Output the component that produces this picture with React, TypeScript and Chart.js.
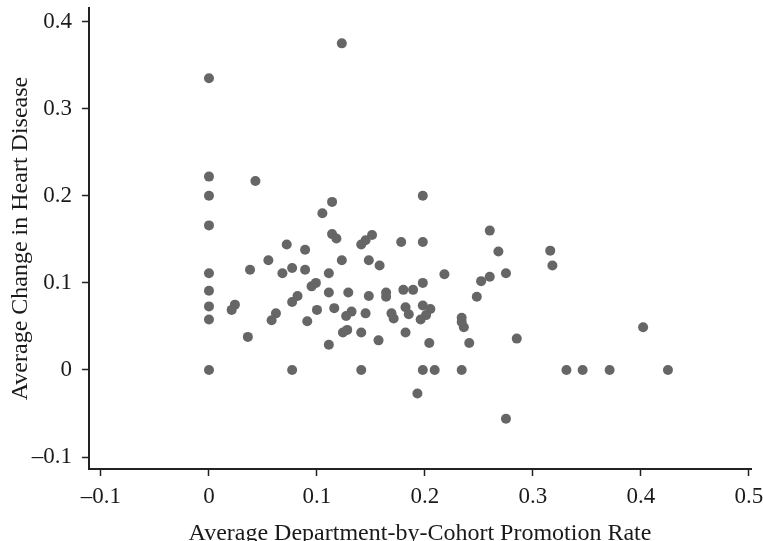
import React, { useEffect, useRef } from "react";
import { Chart, registerables } from "chart.js";

Chart.register(...registerables);

const promotionRate: number[] = [
  0, 0, 0, 0, 0, 0, 0, 0, 0,
  0.043, 0.123, 0.114, 0.105, 0.114, 0.118, 0.072, 0.141, 0.145, 0.151,
  0.089, 0.055, 0.123, 0.148, 0.158, 0.038, 0.077, 0.068, 0.089, 0.111,
  0.099, 0.095, 0.111, 0.129, 0.148, 0.082, 0.077, 0.024, 0.021, 0.100,
  0.116, 0.132, 0.127, 0.145, 0.062, 0.058, 0.091, 0.036, 0.124, 0.128,
  0.141, 0.111, 0.157, 0.077, 0.141, 0.198, 0.178, 0.198, 0.260, 0.268,
  0.316, 0.318, 0.218, 0.275, 0.260, 0.252, 0.198, 0.164, 0.164, 0.180,
  0.189, 0.248, 0.169, 0.171, 0.182, 0.185, 0.198, 0.205, 0.201, 0.196,
  0.234, 0.234, 0.236, 0.182, 0.204, 0.241, 0.285, 0.198, 0.209, 0.234,
  0.193, 0.275, 0.402, 0.331, 0.346, 0.371, 0.425,
];

const heartDiseaseChange: number[] = [
  0.335, 0.222, 0.200, 0.166, 0.111, 0.091, 0.073, 0.058, 0.000,
  0.217, 0.375, 0.193, 0.180, 0.156, 0.151, 0.144, 0.144, 0.149, 0.155,
  0.138, 0.126, 0.126, 0.126, 0.120, 0.115, 0.117, 0.111, 0.115, 0.111,
  0.100, 0.096, 0.089, 0.089, 0.085, 0.085, 0.078, 0.075, 0.069, 0.069,
  0.071, 0.067, 0.062, 0.065, 0.065, 0.057, 0.056, 0.038, 0.043, 0.046,
  0.043, 0.029, 0.034, 0.000, 0.000, 0.200, 0.147, 0.147, 0.160, 0.136,
  0.137, 0.120, 0.110, 0.111, 0.107, 0.102, 0.100, 0.089, 0.084, 0.092,
  0.092, 0.084, 0.065, 0.059, 0.072, 0.064, 0.074, 0.070, 0.063, 0.058,
  0.060, 0.055, 0.049, 0.043, 0.031, 0.031, 0.036, 0.000, 0.000, 0.000,
  -0.027, -0.056, 0.049, 0.000, 0.000, 0.000, 0.000,
];

const xTicks: number[] = [-0.1, 0, 0.1, 0.2, 0.3, 0.4, 0.5];
const yTicks: number[] = [-0.1, 0, 0.1, 0.2, 0.3, 0.4];

const xTitle = "Average Department-by-Cohort Promotion Rate";
const yTitle = "Average Change in Heart Disease";

const fmt = (v: number): string => {
  const r = Math.round(v * 10) / 10;
  if (r === 0) return "0";
  return r < 0 ? "\u2013" + String(Math.abs(r)) : String(r);
};

const serif = "'Liberation Serif', 'Times New Roman', serif";

export default function App() {
  const ref = useRef<HTMLCanvasElement | null>(null);

  useEffect(() => {
    if (!ref.current) return;
    const data = promotionRate.map((x, i) => ({ x, y: heartDiseaseChange[i] }));
    const axisColor = "#222222";
    const textColor = "#1a1a1a";
    const chart = new Chart(ref.current, {
      type: "scatter",
      data: {
        datasets: [
          {
            data,
            backgroundColor: "#666666",
            borderWidth: 0,
            pointRadius: 5,
            pointHoverRadius: 5,
          },
        ],
      },
      options: {
        animation: false,
        responsive: false,
        devicePixelRatio: 1,
        layout: { padding: { left: 0, top: 8, right: 12, bottom: 0 } },
        plugins: { legend: { display: false }, tooltip: { enabled: false } },
        scales: {
          x: {
            type: "linear",
            min: -0.1111,
            max: 0.5019,
            afterBuildTicks: (s: any) => {
              s.ticks = xTicks.map((v) => ({ value: v }));
            },
            afterFit: (s: any) => {
              s.height = 72;
              s.paddingLeft = 0;
              s.paddingRight = 0;
            },
            border: { display: true, color: axisColor, width: 2 },
            grid: {
              display: true,
              drawOnChartArea: false,
              drawTicks: true,
              tickLength: 7,
              tickWidth: 1.5,
              tickColor: axisColor,
            },
            ticks: {
              callback: (v: any) => fmt(Number(v)),
              color: textColor,
              padding: 7,
              maxRotation: 0,
              autoSkip: false,
              font: { family: serif, size: 23 },
            },
            title: {
              display: true,
              text: xTitle,
              color: textColor,
              padding: { top: 0, bottom: -7 },
              font: { family: serif, size: 24 },
            },
          },
          y: {
            type: "linear",
            min: -0.1137,
            max: 0.4156,
            afterBuildTicks: (s: any) => {
              s.ticks = yTicks.map((v) => ({ value: v }));
            },
            afterFit: (s: any) => {
              s.width = 89;
              s.paddingTop = 0;
              s.paddingBottom = 0;
            },
            border: { display: true, color: axisColor, width: 2 },
            grid: {
              display: true,
              drawOnChartArea: false,
              drawTicks: true,
              tickLength: 7,
              tickWidth: 1.5,
              tickColor: axisColor,
            },
            ticks: {
              callback: (v: any) => fmt(Number(v)),
              color: textColor,
              padding: 10,
              autoSkip: false,
              font: { family: serif, size: 23 },
            },
            title: {
              display: true,
              text: yTitle,
              color: textColor,
              padding: { top: 6, bottom: 0 },
              font: { family: serif, size: 24 },
            },
          },
        },
      },
    });
    return () => chart.destroy();
  }, []);

  return (
    <div style={{ position: "fixed", left: 0, top: 0, width: 763, height: 541, background: "#ffffff" }}>
      <canvas ref={ref} width={763} height={541} style={{ display: "block", width: 763, height: 541 }} />
    </div>
  );
}
